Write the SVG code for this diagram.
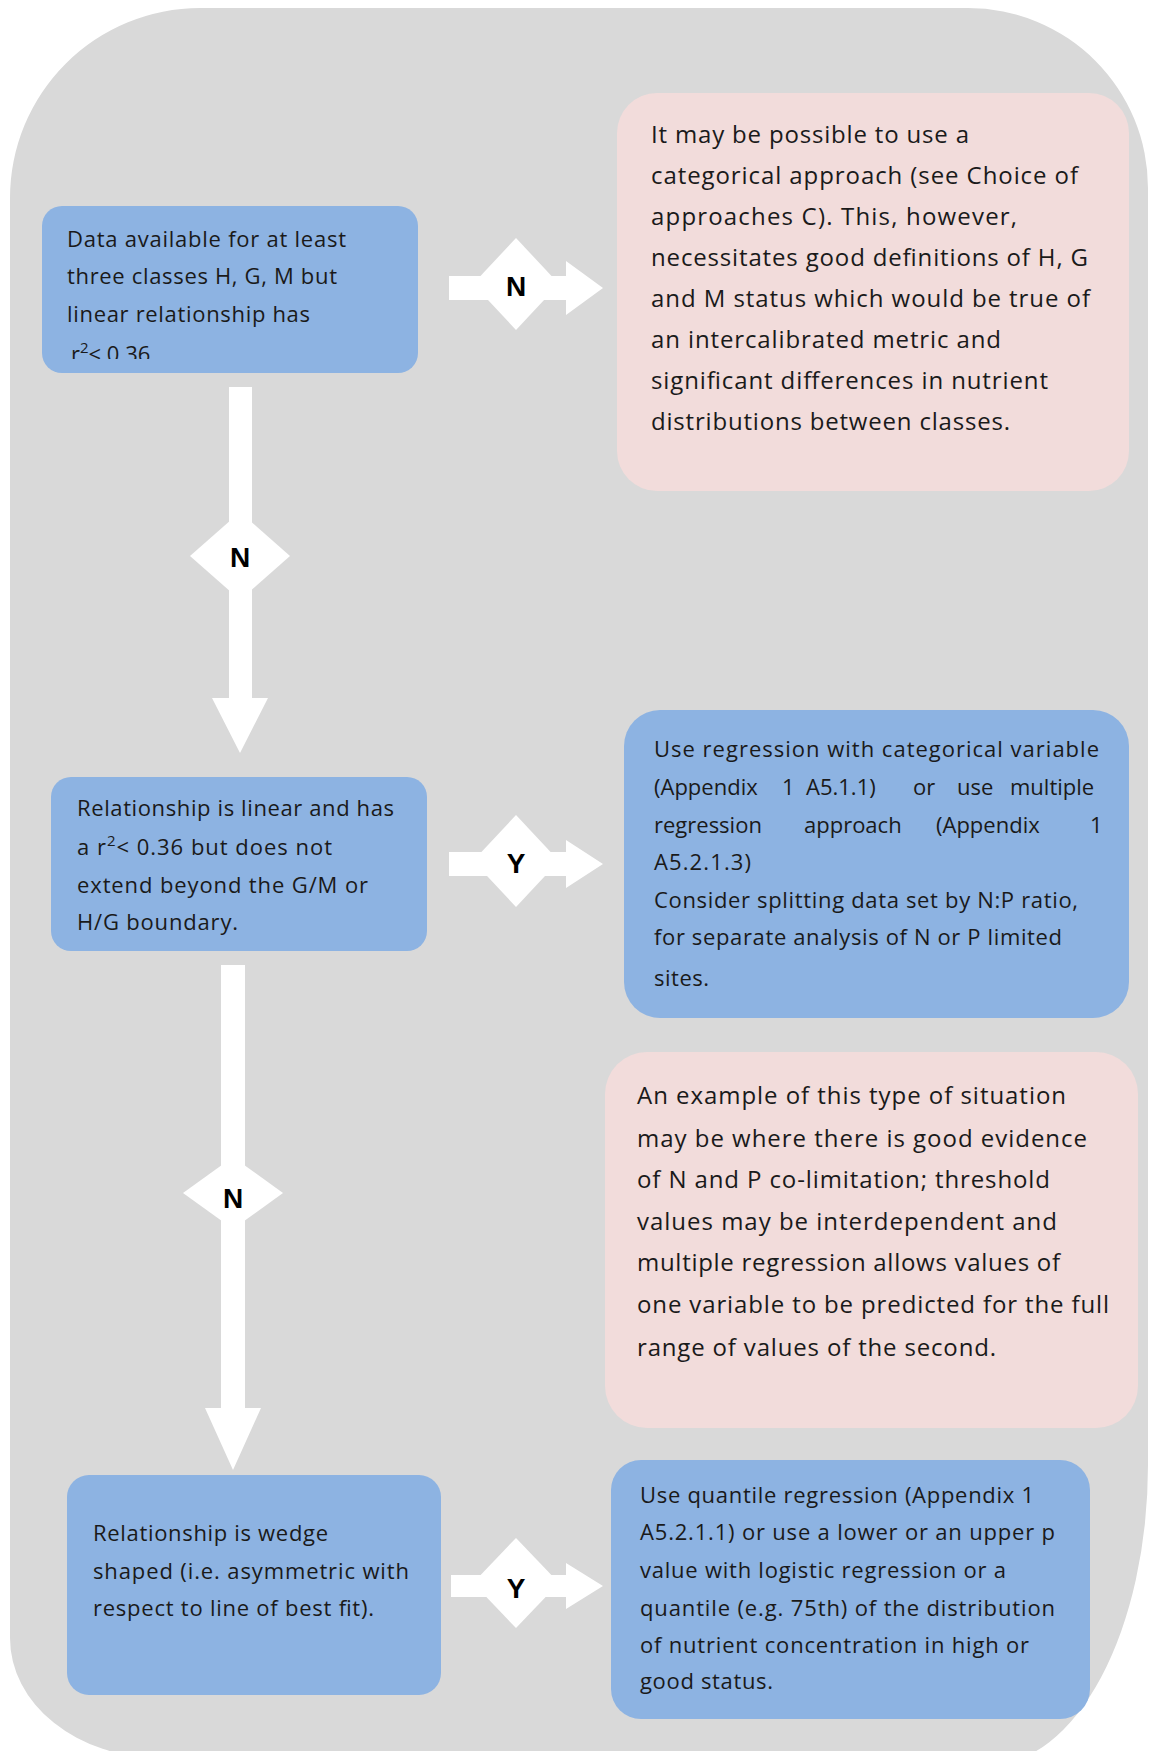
<svg xmlns="http://www.w3.org/2000/svg" width="1149" height="1751" viewBox="0 0 1149 1751">
<style>
.bg{fill:#d9d9d9}
.blue{fill:#8db3e2}
.pink{fill:#f2dcdb}
.t{font-family:"Open Sans","Liberation Sans",Arial,sans-serif;fill:#1a1a1a}
.s{font-size:22px}
.l{font-size:24px}
.w{fill:#ffffff}
.lab{font-family:"Liberation Sans",Arial,sans-serif;font-size:28px;font-weight:bold;fill:#000;text-anchor:middle}
</style>
<defs>
<clipPath id="clip1"><rect x="42" y="206" width="376" height="153"/></clipPath>
</defs>
<rect width="1149" height="1751" fill="#ffffff"/>
<path class="bg" d="M200,8 H968 A180,180 0 0 1 1148,188 V1465 A160,300 0 0 1 988,1765 L160,1758 A150,120 0 0 1 10,1638 V198 A190,190 0 0 1 200,8 Z"/>

<g id="connectors">
  <g id="arrow-n1">
    <polygon class="w" points="449,276 566,276 566,261 603,288 566,315 566,300 449,300"/>
    <polygon class="w" points="516,238 559,284 516,330 473,284"/>
    <text class="lab" x="516" y="296">N</text>
  </g>
  <g id="arrow-n2">
    <polygon class="w" points="229,387 252,387 252,698 268,698 240,753 212,698 229,698"/>
    <polygon class="w" points="240,512 290,556 240,600 190,556"/>
    <text class="lab" x="240" y="567">N</text>
  </g>
  <g id="arrow-y1">
    <polygon class="w" points="449,852 566,852 566,840 603,864 566,888 566,876 449,876"/>
    <polygon class="w" points="516,815 559,861 516,907 473,861"/>
    <text class="lab" x="516" y="873">Y</text>
  </g>
  <g id="arrow-n3">
    <polygon class="w" points="221,965 245,965 245,1408 261,1408 233,1470 205,1408 221,1408"/>
    <polygon class="w" points="233,1157 283,1193 233,1229 183,1193"/>
    <text class="lab" x="233" y="1208">N</text>
  </g>
  <g id="arrow-y2">
    <polygon class="w" points="451,1575 566,1575 566,1563 603,1586 566,1609 566,1597 451,1597"/>
    <polygon class="w" points="516,1538 559,1583 516,1628 473,1583"/>
    <text class="lab" x="516" y="1598">Y</text>
  </g>
</g>

<g id="node-data">
  <rect class="blue" x="42" y="206" width="376" height="167" rx="20"/>
  <g class="t s">
    <text x="67" y="247" textLength="279">Data available for at least</text>
    <text x="67" y="284" textLength="270">three classes H, G, M but</text>
    <text x="67" y="322" textLength="243">linear relationship has</text>
    <text x="71" y="362" clip-path="url(#clip1)">r<tspan dy="-9" font-size="15">2</tspan><tspan dy="9">&lt; 0.36</tspan></text>
  </g>
</g>

<g id="node-categorical">
  <rect class="pink" x="617" y="93" width="512" height="398" rx="40"/>
  <g class="t l">
    <text x="651" y="143" textLength="318">It may be possible to use a</text>
    <text x="651" y="184" textLength="427">categorical approach (see Choice of</text>
    <text x="651" y="225" textLength="366">approaches C).  This, however,</text>
    <text x="651" y="266" textLength="437">necessitates good definitions of H, G</text>
    <text x="651" y="307" textLength="439">and M status which would be true of</text>
    <text x="651" y="348" textLength="350">an intercalibrated metric and</text>
    <text x="651" y="389" textLength="397">significant differences in nutrient</text>
    <text x="651" y="430" textLength="359">distributions between classes.</text>
  </g>
</g>

<g id="node-linear">
  <rect class="blue" x="51" y="777" width="376" height="174" rx="20"/>
  <g class="t s">
    <text x="77" y="816" textLength="317">Relationship is linear and has</text>
    <text x="77" y="855" textLength="255">a r<tspan dy="-9" font-size="15">2</tspan><tspan dy="9">&lt; 0.36 but does not</tspan></text>
    <text x="77" y="893" textLength="291">extend beyond the G/M or</text>
    <text x="77" y="930" textLength="161">H/G boundary.</text>
  </g>
</g>

<g id="node-regression">
  <rect class="blue" x="624" y="710" width="505" height="308" rx="36"/>
  <g class="t s">
    <text x="654" y="757" textLength="445">Use regression with categorical variable</text>
    <text y="795"><tspan x="654">(Appendix</tspan><tspan x="782">1</tspan><tspan x="806">A5.1.1)</tspan><tspan x="913">or</tspan><tspan x="957">use</tspan><tspan x="1010">multiple</tspan></text>
    <text y="833"><tspan x="654">regression</tspan><tspan x="804">approach</tspan><tspan x="936">(Appendix</tspan><tspan x="1090">1</tspan></text>
    <text x="654" y="870" textLength="97">A5.2.1.3)</text>
    <text x="654" y="908" textLength="424">Consider splitting data set by N:P ratio,</text>
    <text x="654" y="945" textLength="408">for separate analysis of N or P limited</text>
    <text x="654" y="986" textLength="55">sites.</text>
  </g>
</g>

<g id="node-example">
  <rect class="pink" x="605" y="1052" width="533" height="376" rx="42"/>
  <g class="t l">
    <text x="637" y="1104" textLength="429">An example of this type of situation</text>
    <text x="637" y="1147" textLength="450">may be where there is good evidence</text>
    <text x="637" y="1188" textLength="413">of N and P co-limitation; threshold</text>
    <text x="637" y="1230" textLength="420">values may be interdependent and</text>
    <text x="637" y="1271" textLength="423">multiple regression allows values of</text>
    <text x="637" y="1313" textLength="472">one variable to be predicted for the full</text>
    <text x="637" y="1356" textLength="359">range of values of the second.</text>
  </g>
</g>

<g id="node-wedge">
  <rect class="blue" x="67" y="1475" width="374" height="220" rx="22"/>
  <g class="t s">
    <text x="93" y="1541" textLength="235">Relationship is wedge</text>
    <text x="93" y="1579" textLength="316">shaped (i.e. asymmetric with</text>
    <text x="93" y="1616" textLength="281">respect to line of best fit).</text>
  </g>
</g>

<g id="node-quantile">
  <rect class="blue" x="611" y="1460" width="479" height="259" rx="30"/>
  <g class="t s">
    <text x="640" y="1503" textLength="394">Use quantile regression (Appendix 1</text>
    <text x="640" y="1540" textLength="415">A5.2.1.1) or use a lower or an upper p</text>
    <text x="640" y="1578" textLength="366">value with logistic regression or a</text>
    <text x="640" y="1616" textLength="415">quantile (e.g. 75th) of the distribution</text>
    <text x="640" y="1653" textLength="389">of nutrient concentration in high or</text>
    <text x="640" y="1689" textLength="133">good status.</text>
  </g>
</g>
</svg>
